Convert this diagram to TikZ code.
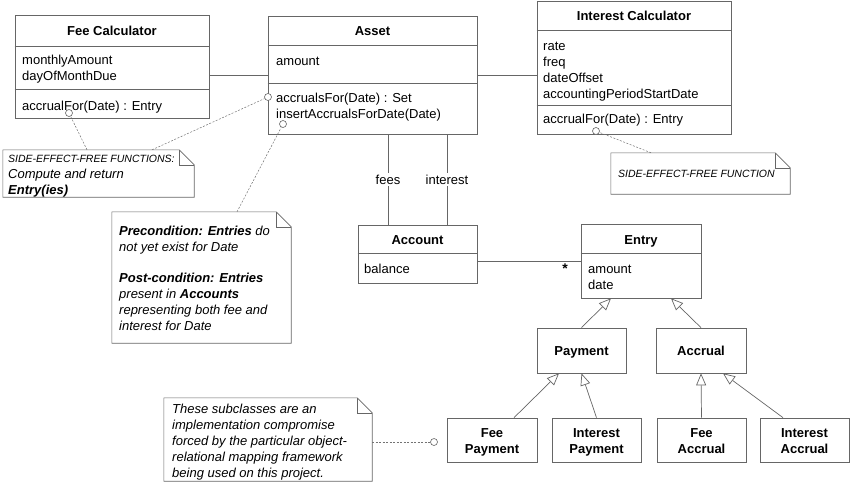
\documentclass[tikz,border=0pt]{standalone}
\usepackage{fontspec}
\setmainfont{Liberation Sans}
\usetikzlibrary{arrows.meta}

\begin{document}
\begin{tikzpicture}[x=1pt, y=-1pt,
    classbox/.style={draw=black!60, line width=0.7pt, inner sep=0pt},
    classtitle/.style={font=\fontsize{13}{16}\selectfont\bfseries, anchor=base, inner sep=0pt},
    member/.style={font=\fontsize{13}{16}\selectfont, anchor=base west, inner sep=0pt},
    notetext/.style={font=\fontsize{13}{16}\selectfont\itshape, anchor=base west, inner sep=0pt},
    notesmall/.style={font=\fontsize{10.5}{13}\selectfont\itshape, anchor=base west, inner sep=0pt},
    notebox/.style={inner sep=0pt},
    notedraw/.style={draw=black!60, line width=0.6pt},
    assoc/.style={draw=black!60, line width=0.7pt},
    inherit/.style={draw=black!60, line width=0.7pt, -{Triangle[open, length=12pt, width=10pt, fill=white]}},
    noteline/.style={draw=black!55, line width=0.5pt, dash pattern=on 2pt off 1.5pt},
    knob/.style={circle, draw=black!60, fill=white, line width=0.6pt, inner sep=0pt, minimum size=7pt}]

    % Frame of the picture
    \useasboundingbox (0,0) rectangle (850,483);

    % Class boxes
    \node[classbox, minimum width=194pt, minimum height=103pt] (feecalc) at (112,66.5) {};
    \node[classbox, minimum width=209pt, minimum height=118pt] (asset) at (372.5,75) {};
    \node[classbox, minimum width=194pt, minimum height=133pt] (intcalc) at (634,67.5) {};
    \node[classbox, minimum width=119pt, minimum height=58pt] (account) at (417.5,254) {};
    \node[classbox, minimum width=120pt, minimum height=74pt] (entry) at (641,261) {};
    \node[classbox, minimum width=89pt, minimum height=45pt] (payment) at (581.5,350.5) {};
    \node[classbox, minimum width=90pt, minimum height=45pt] (accrual) at (701,350.5) {};
    \node[classbox, minimum width=90pt, minimum height=44pt] (feepay) at (492,440) {};
    \node[classbox, minimum width=89pt, minimum height=44pt] (intpay) at (596.5,440) {};
    \node[classbox, minimum width=89pt, minimum height=44pt] (feeacc) at (701.5,440) {};
    \node[classbox, minimum width=89pt, minimum height=44pt] (intacc) at (804.5,440) {};

    % Compartment lines
    \draw[assoc] (feecalc.west |- 0,46) -- (feecalc.east |- 0,46);
    \draw[assoc] (feecalc.west |- 0,89) -- (feecalc.east |- 0,89);
    \draw[assoc] (asset.west |- 0,45) -- (asset.east |- 0,45);
    \draw[assoc] (asset.west |- 0,83) -- (asset.east |- 0,83);
    \draw[assoc] (intcalc.west |- 0,30) -- (intcalc.east |- 0,30);
    \draw[assoc] (intcalc.west |- 0,105) -- (intcalc.east |- 0,105);
    \draw[assoc] (account.west |- 0,253) -- (account.east |- 0,253);
    \draw[assoc] (entry.west |- 0,253) -- (entry.east |- 0,253);

    % Fee Calculator
    \node[classtitle] (feecalc-t) at (112,35) {Fee Calculator};
    \node[member] (feecalc-a1) at (22,64) {monthlyAmount};
    \node[member] (feecalc-a2) at (22,80) {dayOfMonthDue};
    \node[member] (feecalc-m1) at (22,110) {accrualFor(Date) : Entry};

    % Asset
    \node[classtitle] (asset-t) at (372.5,35) {Asset};
    \node[member] (asset-a1) at (276,65) {amount};
    \node[member] (asset-m1) at (276,102) {accrualsFor(Date) : Set};
    \node[member] (asset-m2) at (276,118) {insertAccrualsForDate(Date)};

    % Interest Calculator
    \node[classtitle] (intcalc-t) at (634,20) {Interest Calculator};
    \node[member] (intcalc-a1) at (543,50) {rate};
    \node[member] (intcalc-a2) at (543,66) {freq};
    \node[member] (intcalc-a3) at (543,82) {dateOffset};
    \node[member] (intcalc-a4) at (543,98) {accountingPeriodStartDate};
    \node[member] (intcalc-m1) at (543,123) {accrualFor(Date) : Entry};

    % Account and Entry
    \node[classtitle] (account-t) at (417.5,244) {Account};
    \node[member] (account-a1) at (364,273) {balance};
    \node[classtitle] (entry-t) at (641,244) {Entry};
    \node[member] (entry-a1) at (588,273) {amount};
    \node[member] (entry-a2) at (588,289) {date};

    % Subclasses
    \node[classtitle] (payment-t) at (581.5,355) {Payment};
    \node[classtitle] (accrual-t) at (701,355) {Accrual};
    \node[classtitle] (feepay-t1) at (492,437) {Fee};
    \node[classtitle] (feepay-t2) at (492,453) {Payment};
    \node[classtitle] (intpay-t1) at (596.5,437) {Interest};
    \node[classtitle] (intpay-t2) at (596.5,453) {Payment};
    \node[classtitle] (feeacc-t1) at (701.5,437) {Fee};
    \node[classtitle] (feeacc-t2) at (701.5,453) {Accrual};
    \node[classtitle] (intacc-t1) at (804.5,437) {Interest};
    \node[classtitle] (intacc-t2) at (804.5,453) {Accrual};

    % Associations
    \draw[assoc] (feecalc.east |- asset.west) -- (asset.west);
    \draw[assoc] (asset.east) -- (intcalc.west |- asset.east);
    \draw[assoc] ([xshift=-29.5pt]account.north) -- ([xshift=-29.5pt]account.north |- asset.south)
        node[midway, fill=white, inner sep=2pt, font=\fontsize{13}{16}\selectfont] (fees) {fees};
    \draw[assoc] ([xshift=29.5pt]account.north) -- ([xshift=29.5pt]account.north |- asset.south)
        node[midway, fill=white, inner sep=2pt, font=\fontsize{13}{16}\selectfont] (interest) {interest};
    \draw[assoc] (account.east |- entry.west) -- (entry.west)
        node[pos=0.85, below, inner sep=3pt, font=\fontsize{14}{16}\selectfont\bfseries] (many) {*};

    % Generalizations
    \draw[inherit] (payment.north) -- ([xshift=-30pt]entry.south);
    \draw[inherit] (accrual.north) -- ([xshift=30pt]entry.south);
    \draw[inherit] ([xshift=22pt]feepay.north) -- ([xshift=-22.5pt]payment.south);
    \draw[inherit] (intpay.north) -- (payment.south);
    \draw[inherit] (feeacc.north) -- (accrual.south);
    \draw[inherit] ([xshift=-21.5pt]intacc.north) -- ([xshift=22pt]accrual.south);

    % Notes
    \node[notebox, minimum width=191pt, minimum height=47pt] (note1) at (98.5,173.5) {};
    \node[notebox, minimum width=179pt, minimum height=131pt] (note2) at (201.5,277.5) {};
    \node[notebox, minimum width=179pt, minimum height=41pt] (note3) at (700.5,173.5) {};
    \node[notebox, minimum width=208pt, minimum height=83pt] (note4) at (268,439.5) {};
    \foreach \n in {note1, note2, note3, note4} {
        \draw[notedraw] (\n.north west) -- ([xshift=-15pt]\n.north east) -- ([yshift=-15pt]\n.north east)
            -- (\n.south east) -- (\n.south west) -- cycle;
        \draw[notedraw] ([xshift=-15pt]\n.north east) |- ([yshift=-15pt]\n.north east);
    }

    \node[notesmall] (note1-l1) at (8,162) {SIDE-EFFECT-FREE FUNCTIONS:};
    \node[notetext] (note1-l2) at (8,178) {Compute and return};
    \node[notetext] (note1-l3) at (8,194) {\bfseries Entry(ies)};

    \node[notetext] (note2-l1) at (119,235) {\bfseries Precondition: Entries\mdseries{} do};
    \node[notetext] (note2-l2) at (119,251) {not yet exist for Date};
    \node[notetext] (note2-l3) at (119,282) {\bfseries Post-condition: Entries};
    \node[notetext] (note2-l4) at (119,298) {present in \textbf{Accounts}};
    \node[notetext] (note2-l5) at (119,314) {representing both fee and};
    \node[notetext] (note2-l6) at (119,330) {interest for Date};

    \node[notesmall] (note3-l1) at (618,177) {SIDE-EFFECT-FREE FUNCTION};

    \node[notetext] (note4-l1) at (172,413) {These subclasses are an};
    \node[notetext] (note4-l2) at (172,429) {implementation compromise};
    \node[notetext] (note4-l3) at (172,445) {forced by the particular object-};
    \node[notetext] (note4-l4) at (172,461) {relational mapping framework};
    \node[notetext] (note4-l5) at (172,477) {being used on this project.};

    % Note attachments
    \node[knob] (k1) at (69,113) {};
    \node[knob] (k2) at (268,97) {};
    \node[knob] (k3) at (283,124) {};
    \node[knob] (k4) at (596,131) {};
    \node[knob] (k5) at (434,442) {};
    \draw[noteline] ([xshift=-11.5pt]note1.north) -- (k1);
    \draw[noteline] ([xshift=53.5pt]note1.north) -- (k2);
    \draw[noteline] ([xshift=35.5pt]note2.north) -- (k3);
    \draw[noteline] ([xshift=-49.5pt]note3.north) -- (k4);
    \draw[noteline] (note4.east |- k5) -- (k5);

\end{tikzpicture}
\end{document}
